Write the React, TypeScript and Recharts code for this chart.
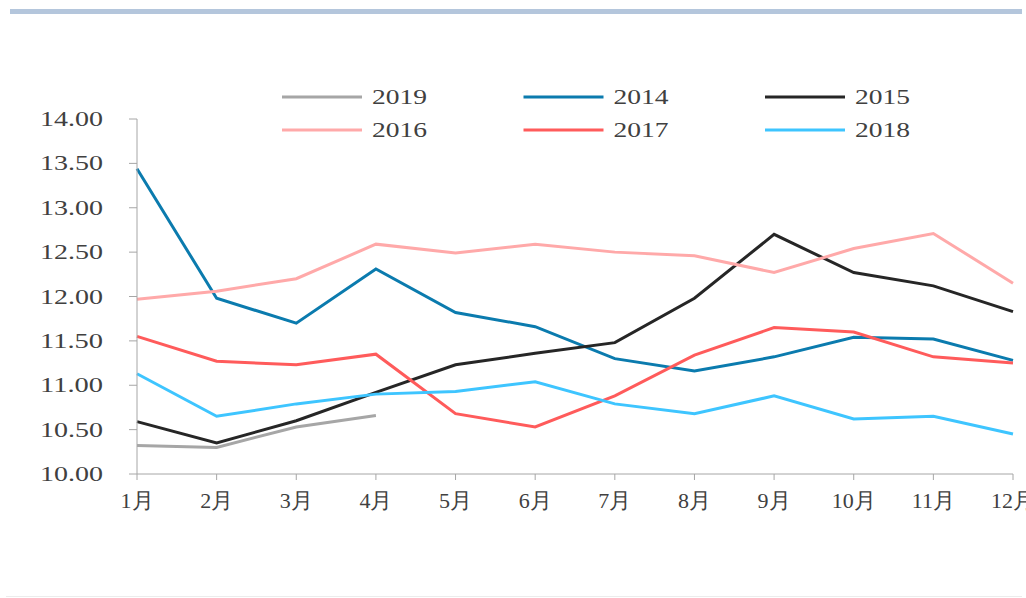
import React from 'react';
import { LineChart, Line, XAxis, YAxis, Legend } from 'recharts';

const months = ['1月', '2月', '3月', '4月', '5月', '6月', '7月', '8月', '9月', '10月', '11月', '12月'];

const y2019 = [10.32, 10.3, 10.53, 10.66, null, null, null, null, null, null, null, null];
const y2014 = [13.44, 11.98, 11.7, 12.31, 11.82, 11.66, 11.3, 11.16, 11.32, 11.54, 11.52, 11.28];
const y2015 = [10.59, 10.35, 10.6, 10.92, 11.23, 11.36, 11.48, 11.98, 12.7, 12.27, 12.12, 11.83];
const y2016 = [11.97, 12.06, 12.2, 12.59, 12.49, 12.59, 12.5, 12.46, 12.27, 12.54, 12.71, 12.15];
const y2017 = [11.55, 11.27, 11.23, 11.35, 10.68, 10.53, 10.88, 11.34, 11.65, 11.6, 11.32, 11.25];
const y2018 = [11.13, 10.65, 10.79, 10.9, 10.93, 11.04, 10.79, 10.68, 10.88, 10.62, 10.65, 10.45];

const yTicks = [10, 10.5, 11, 11.5, 12, 12.5, 13, 13.5, 14];

const series = [
  { key: '2019', color: '#a6a6a6' },
  { key: '2014', color: '#0b7bae' },
  { key: '2015', color: '#262626' },
  { key: '2016', color: '#ffa9a9' },
  { key: '2017', color: '#ff5b5b' },
  { key: '2018', color: '#3ec5ff' },
];

const data = months.map((m, i) => ({
  name: m,
  '2019': y2019[i],
  '2014': y2014[i],
  '2015': y2015[i],
  '2016': y2016[i],
  '2017': y2017[i],
  '2018': y2018[i],
}));

const font = '"Liberation Serif", "Times New Roman", serif';

// labels in the source are stretched wide, so force the width
const YTick = (props: any) => {
  const { y, payload } = props;
  return (
    <text x={40} y={y + 7} textAnchor="start" fontFamily={font} fontSize={21} fill="#404040"
      textLength={63} lengthAdjust="spacingAndGlyphs">
      {payload.value.toFixed(2)}
    </text>
  );
};

const XTick = (props: any) => {
  const { x, y, payload } = props;
  return (
    <text x={x} y={y + 26} textAnchor="middle" fontFamily={font} fontSize={22} fill="#404040">
      {payload.value}
    </text>
  );
};

const LegendContent = () => (
  <svg width={1026} height={150} style={{ display: 'block' }}>
    {series.map((s, i) => {
      const col = i % 3;
      const row = Math.floor(i / 3);
      const x0 = 282 + col * 241.5;
      const yy = 97 + row * 33;
      return (
        <g key={s.key}>
          <line x1={x0} y1={yy} x2={x0 + 80} y2={yy} stroke={s.color} strokeWidth={3} />
          <text x={x0 + 90} y={yy + 7} fontFamily={font} fontSize={21} fill="#404040"
            textLength={55} lengthAdjust="spacingAndGlyphs">
            {s.key}
          </text>
        </g>
      );
    })}
  </svg>
);

export default function App() {
  return (
    <div style={{ position: 'absolute', left: 0, top: 0, width: 1026, height: 598, background: '#fff' }}>
      <div style={{ position: 'absolute', left: 10, top: 9, width: 1012, height: 5, background: '#b4c6dc' }} />
      <div style={{ position: 'absolute', left: 6, top: 596, width: 1016, height: 1, background: '#ececec' }} />
      <LineChart
        width={1026}
        height={598}
        data={data}
        margin={{ top: 119, right: 13, left: 37, bottom: 84 }}
      >
        <XAxis
          dataKey="name"
          height={40}
          stroke="#a6a6a6"
          tickSize={6}
          tick={<XTick />}
          interval={0}
        />
        <YAxis
          width={100}
          domain={[10, 14]}
          ticks={yTicks}
          stroke="#a6a6a6"
          tickSize={8}
          tick={<YTick />}
          interval={0}
        />
        <Legend
          layout="horizontal"
          verticalAlign="middle"
          align="center"
          wrapperStyle={{ position: 'absolute', left: 0, top: 0, width: 1026, height: 150 }}
          content={<LegendContent />}
        />
        {series.map((s) => (
          <Line
            key={s.key}
            type="linear"
            dataKey={s.key}
            stroke={s.color}
            strokeWidth={3}
            dot={false}
            activeDot={false}
            isAnimationActive={false}
            connectNulls={false}
          />
        ))}
      </LineChart>
    </div>
  );
}
